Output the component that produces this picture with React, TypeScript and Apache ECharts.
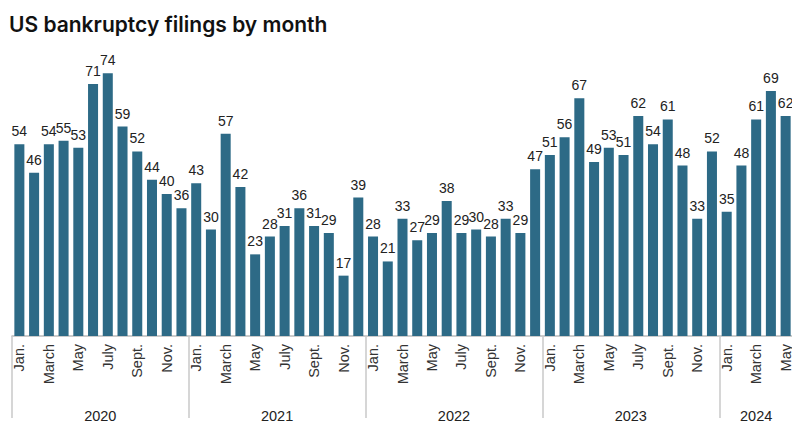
import React, { useEffect, useRef } from "react";
import * as echarts from "echarts";

const monthNames = ["Jan.", "Feb.", "March", "April", "May", "June", "July", "Aug.", "Sept.", "Oct.", "Nov.", "Dec."];
const years = ["2020", "2021", "2022", "2023", "2024"];
const filings2020 = [54, 46, 54, 55, 53, 71, 74, 59, 52, 44, 40, 36];
const filings2021 = [43, 30, 57, 42, 23, 28, 31, 36, 31, 29, 17, 39];
const filings2022 = [28, 21, 33, 27, 29, 38, 29, 30, 28, 33, 29, 47];
const filings2023 = [51, 56, 67, 49, 53, 51, 62, 54, 61, 48, 33, 52];
const filings2024 = [35, 48, 61, 69, 62];
const filingsByYear = [filings2020, filings2021, filings2022, filings2023, filings2024];

const FONT = "'Liberation Sans', Arial, sans-serif";
const TITLE_FONT = "Inter, 'Noto Sans', sans-serif";

export default function App() {
  const ref = useRef<HTMLDivElement>(null);
  useEffect(() => {
    if (!ref.current) return;
    const chart = echarts.init(ref.current, null, { renderer: "svg" });

    const months: string[] = [];
    const yearOf: string[] = [];
    const values: number[] = [];
    const yearStarts: number[] = [];
    const yearLabelIdx: Record<number, { year: string; even: boolean }> = {};
    filingsByYear.forEach((arr, yi) => {
      const start = values.length;
      yearStarts.push(start);
      const n = arr.length;
      yearLabelIdx[start + Math.floor(n / 2)] = { year: years[yi], even: n % 2 === 0 };
      arr.forEach((v, mi) => {
        months.push(monthNames[mi]);
        yearOf.push(years[yi]);
        values.push(v);
      });
    });
    const categories = months.map((m, i) => m + " " + yearOf[i]);

    chart.setOption({
      animation: false,
      title: {
        text: "US bankruptcy filings by month",
        left: 4,
        top: 9,
        textStyle: { fontFamily: TITLE_FONT, fontSize: 21, fontWeight: 600, color: "#111" },
      },
      grid: { left: 12, right: 7, top: 52, bottom: 95, containLabel: false },
      xAxis: [
        {
          type: "category",
          data: categories,
          position: "bottom",
          axisLine: { show: true, lineStyle: { color: "#bbb", width: 1.5 } },
          axisTick: { show: false },
          axisLabel: {
            interval: 1,
            rotate: 90,
            margin: 8,
            fontFamily: FONT,
            fontSize: 14.5,
            color: "#333",
            formatter: (v: string) => v.split(" ")[0],
          },
        },
        {
          type: "category",
          data: yearOf,
          position: "bottom",
          offset: 0,
          axisLine: { show: false },
          axisTick: {
            show: true,
            length: 82,
            interval: (idx: number) => yearStarts.includes(idx),
            lineStyle: { color: "#c8c8c8", width: 1.5 },
          },
          axisLabel: {
            interval: (idx: number) => idx in yearLabelIdx,
            margin: 72,
            fontFamily: FONT,
            fontSize: 14.5,
            color: "#222",
            formatter: (v: string, idx: number) => {
              const info = yearLabelIdx[idx];
              if (!info) return "";
              return info.even ? "{l|" + info.year + "}" : "{c|" + info.year + "}";
            },
            rich: {
              l: { fontFamily: FONT, fontSize: 14.5, color: "#222", padding: [0, 15, 0, 0] },
              c: { fontFamily: FONT, fontSize: 14.5, color: "#222" },
            },
          },
        },
      ],
      yAxis: { type: "value", min: 0, max: 80, show: false, splitLine: { show: false } },
      series: [
        {
          type: "bar",
          xAxisIndex: 0,
          data: values,
          barCategoryGap: "32%",
          itemStyle: { color: "#2d6a86" },
          label: {
            show: true,
            position: "top",
            distance: 6,
            fontFamily: FONT,
            fontSize: 14,
            color: "#222",
          },
        },
      ],
    });
    return () => chart.dispose();
  }, []);
  return <div ref={ref} style={{ width: 800, height: 431, margin: -8 }} />;
}
